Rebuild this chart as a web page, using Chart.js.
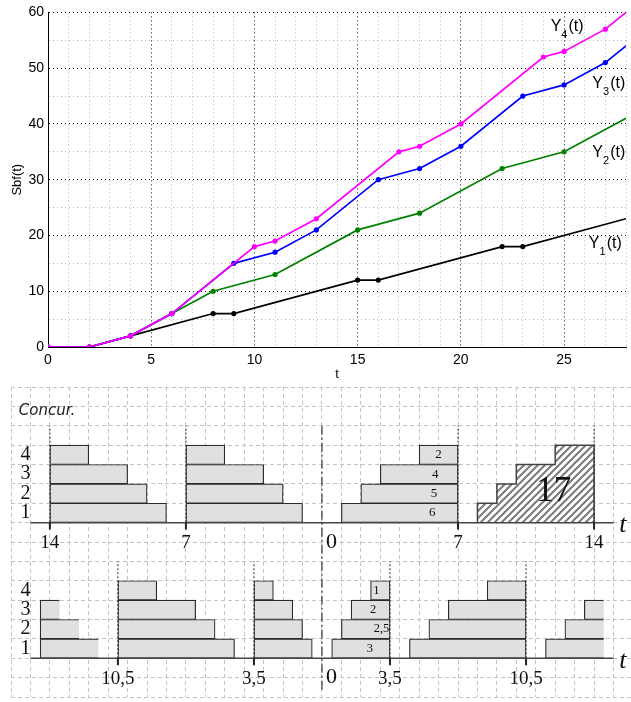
<!DOCTYPE html>
<html><head><meta charset="utf-8">
<script src="https://cdn.jsdelivr.net/npm/chart.js@4.4.0/dist/chart.umd.min.js"></script>
<style>
html,body{margin:0;padding:0;background:#fff;}
canvas{display:block;}
</style></head><body>
<canvas id="c1" width="631" height="380"></canvas>
<canvas id="c2" width="631" height="322"></canvas>
<script>
// ================= TOP CHART DATA =================
const y1T = [0,2,4,8,9,15,16,22,23,28];
const y1V = [0,0,2,6,6,12,12,18,18,23];
const y2T = [0,2,4,6,8,11,15,18,22,25,28];
const y2V = [0,0,2,6,10,13,21,24,32,35,41];
const y3T = [0,2,4,6,9,11,13,16,18,20,23,25,27,28];
const y3V = [0,0,2,6,15,17,21,30,32,36,45,47,51,54];
const y4T = [0,2,4,6,10,11,13,17,18,20,24,25,27,28];
const y4V = [0,0,2,6,18,19,23,35,36,40,52,53,57,60];
const seriesSub = ['1','2','3','4'];
const seriesColors = ['#000000','#008000','#0000ff','#ff00ff'];
const seriesLabelT = [26.2, 26.37, 26.37, 24.35];
const seriesLabelY = [17.7, 34.1, 46.5, 56.7];
const xTickLabels = [0,5,10,15,20,25];
const yTickLabels = [0,10,20,30,40,50,60];

// ================= BOTTOM DIAGRAM DATA =================
const rowIds = [1,2,3,4];
const rowNames = ['1','2','3','4'];
// upper timeline (axis at level 0)
const topGroupA = [[-14,-8],[-14,-9],[-14,-10],[-14,-12]];
const topGroupB = [[-7,-1],[-7,-2],[-7,-3],[-7,-5]];
const topGroupC = [[1,7],[2,7],[3,7],[5,7]];
const topGroupCLabels = ['6','5','4','2'];
const topGroupCLabelAt = [5.68,5.76,5.83,6.0];
const stairStarts = [8,9,10,12];
const stairEnd = 14;
const stairTotal = '17';
const topMarks = [-14,-7,0,7,14];
const topMarkLabels = ['14','7','0','7','14'];
const topGuides = [-14,-7,7,14];
// lower timeline (axis at level -7)
const botGroupA = [[-14.5,-11.5],[-14.5,-12.5],[-14.5,-13.5]];
const botGroupB = [[-10.5,-4.5],[-10.5,-5.5],[-10.5,-6.5],[-10.5,-8.5]];
const botGroupC = [[-3.5,-0.5],[-3.5,-1],[-3.5,-1.5],[-3.5,-2.5]];
const botGroupD = [[0.5,3.5],[1,3.5],[1.5,3.5],[2.5,3.5]];
const botGroupDLabels = ['3','2,5','2','1'];
const botGroupDLabelAt = [2.47,3.06,2.63,2.8];
const botGroupE = [[4.5,10.5],[5.5,10.5],[6.5,10.5],[8.5,10.5]];
const botGroupF = [[11.5,14.5],[12.5,14.5],[13.5,14.5]];
const botMarks = [-10.5,-3.5,0,3.5,10.5];
const botMarkLabels = ['10,5','3,5','0','3,5','10,5'];
const botGuides = [-10.5,-3.5,3.5,10.5];

const TOP_BASE = 0, BOT_BASE = -7;

// ================= TOP CHART =================
const pts = (T,V) => T.map((t,i)=>({x:t,y:V[i]}));
const allT = [y1T,y2T,y3T,y4T], allV = [y1V,y2V,y3V,y4V];

const topText = {
  id:'topText',
  afterDraw(chart){
    const {ctx, scales:{x,y}, chartArea:a} = chart;
    ctx.save();
    ctx.fillStyle = '#000';
    ctx.textAlign = 'left'; ctx.textBaseline = 'alphabetic';
    seriesSub.forEach((s,i)=>{
      const px = x.getPixelForValue(seriesLabelT[i]);
      const py = y.getPixelForValue(seriesLabelY[i]);
      ctx.font = '16px "Liberation Sans"';
      ctx.fillText('Y', px, py);
      const w1 = ctx.measureText('Y').width;
      ctx.font = '11px "Liberation Sans"';
      ctx.fillText(s, px + w1, py + 7);
      const w2 = ctx.measureText(s).width;
      ctx.font = '16px "Liberation Sans"';
      ctx.fillText('(t)', px + w1 + w2 + 1, py);
    });
    ctx.font = '13px "Liberation Sans"';
    ctx.textAlign = 'center'; ctx.textBaseline = 'middle';
    ctx.fillText('t', (a.left + a.right)/2, 374);
    ctx.translate(17, (a.top + a.bottom)/2);
    ctx.rotate(-Math.PI/2);
    ctx.fillText('Sbf(t)', 0, 0);
    ctx.restore();
  }
};

new Chart(document.getElementById('c1'), {
  type:'line',
  data:{ datasets: allT.map((T,i)=>({
    data: pts(T, allV[i]),
    borderColor: seriesColors[i],
    backgroundColor: seriesColors[i],
    pointBackgroundColor: seriesColors[i],
    pointBorderWidth: 0,
    pointRadius: c => (c.raw && c.raw.x >= 28) ? 0 : 2.6,
    pointHoverRadius: 0,
    borderWidth: 1.7,
    tension: 0,
    fill: false,
    order: 4 - i
  }))},
  options:{
    responsive:false, animation:false,
    layout:{padding:{top:12,left:0,right:0,bottom:0}},
    plugins:{legend:{display:false}, tooltip:{enabled:false}},
    scales:{
      x:{type:'linear', min:0, max:28,
        afterFit: s => { s.height = 33; },
        ticks:{stepSize:1, autoSkip:false, maxRotation:0, minRotation:0, padding:5, color:'#000',
          font:{family:'Liberation Sans', size:14},
          callback: v => xTickLabels.includes(v) ? String(v) : ''},
        grid:{drawTicks:false, lineWidth:1,
          color: c => (c.tick && c.tick.value % 5 === 0) ? '#111' : '#b8b8b8'},
        border:{display:true, color:'#000', width:1, dash:[1,3]}
      },
      y:{type:'linear', min:0, max:60,
        afterFit: s => { s.width = 48; },
        ticks:{stepSize:5, autoSkip:false, padding:4, color:'#000',
          font:{family:'Liberation Sans', size:14},
          callback: v => yTickLabels.includes(v) ? String(v) : ''},
        grid:{drawTicks:false, lineWidth:1,
          color: c => (c.tick && c.tick.value % 10 === 0) ? '#111' : '#b8b8b8'},
        border:{display:true, color:'#000', width:1, dash:[1,3]}
      }
    }
  },
  plugins:[topText]
});

// ================= BOTTOM DIAGRAM =================
const c2 = document.getElementById('c2');
function makeHatch(){
  const s = 7, t = document.createElement('canvas');
  t.width = s; t.height = s;
  const g = t.getContext('2d');
  g.fillStyle = '#fff'; g.fillRect(0,0,s,s);
  g.strokeStyle = '#7a7a7a'; g.lineWidth = 2;
  g.beginPath();
  g.moveTo(-1, s+1); g.lineTo(s+1, -1);
  g.moveTo(-1, 1); g.lineTo(1, -1);
  g.moveTo(s-1, s+1); g.lineTo(s+1, s-1);
  g.stroke();
  return c2.getContext('2d').createPattern(t, 'repeat');
}

const barDs = (group, base, skipped) => ({
  type:'bar', indexAxis:'y',
  data: group.map((iv,i)=>({x: iv, y: base + rowIds[i] - 0.5})),
  backgroundColor:'#e0e0e0', borderColor:'#2b2b2b', borderWidth:1.2,
  borderSkipped: skipped, barPercentage:1, categoryPercentage:1, grouped:false,
  order: 3
});
const lineDs = (data, color, width, dash, order) => ({
  type:'line', data, borderColor:color, borderWidth:width, borderDash:dash,
  pointRadius:0, pointHoverRadius:0, tension:0, fill:false, spanGaps:false, order
});
const vSegs = (xs, y0, y1) => {
  const out = [];
  xs.forEach(v => { out.push({x:v,y:y0},{x:v,y:y1},{x:v,y:null}); });
  return out;
};

const stairPts = [];
stairStarts.forEach((s,i)=>{ stairPts.push({x:s,y:TOP_BASE+i},{x:s,y:TOP_BASE+i+1}); });
stairPts.push({x:stairEnd,y:TOP_BASE+stairStarts.length},{x:stairEnd,y:TOP_BASE});

const datasets = [
  barDs(topGroupA, TOP_BASE, false),
  barDs(topGroupB, TOP_BASE, false),
  barDs(topGroupC, TOP_BASE, false),
  barDs(botGroupA, BOT_BASE, 'left'),
  barDs(botGroupB, BOT_BASE, false),
  barDs(botGroupC, BOT_BASE, false),
  barDs(botGroupD, BOT_BASE, false),
  barDs(botGroupE, BOT_BASE, false),
  barDs(botGroupF, BOT_BASE, 'right'),
  Object.assign(lineDs(stairPts, '#444', 1.5, [], 3), {fill:'origin', backgroundColor: makeHatch()}),
  lineDs(vSegs(topGuides, TOP_BASE, TOP_BASE+5), '#222', 1, [2,2], 1),
  lineDs(vSegs(botGuides, BOT_BASE, BOT_BASE+5), '#222', 1, [2,2], 1),
  lineDs([{x:0,y:TOP_BASE+5},{x:0,y:BOT_BASE-1.65}], '#333', 1.2, [9,3,2,3], 1),
  lineDs(vSegs(topMarks.filter(v=>v!==0), TOP_BASE, TOP_BASE-0.36), '#222', 2, [], 0),
  lineDs(vSegs(botMarks.filter(v=>v!==0), BOT_BASE, BOT_BASE-0.36), '#222', 2, [], 0),
  lineDs([{x:-15,y:TOP_BASE},{x:15,y:TOP_BASE}], '#444', 1.5, [], 0),
  lineDs([{x:-15,y:BOT_BASE},{x:15,y:BOT_BASE}], '#444', 1.5, [], 0)
];

const botText = {
  id:'botText',
  afterDatasetsDraw(chart){
    const {ctx, scales:{x,y}} = chart;
    const X = v => x.getPixelForValue(v), Y = v => y.getPixelForValue(v);
    ctx.save();
    ctx.fillStyle = '#111';
    // title
    ctx.font = 'italic 15px "DejaVu Sans"';
    ctx.textAlign = 'left'; ctx.textBaseline = 'alphabetic';
    ctx.fillStyle = '#222';
    ctx.fillText('Concur.', X(-15.6), Y(5.56));
    ctx.fillStyle = '#111';
    // row labels
    ctx.font = '20px "Liberation Serif"';
    ctx.textAlign = 'center'; ctx.textBaseline = 'middle';
    [TOP_BASE, BOT_BASE].forEach(b => {
      rowIds.forEach((r,i) => ctx.fillText(rowNames[i], X(-15.25), Y(b + r - 0.5)));
    });
    // bar labels
    ctx.font = '13px "Liberation Serif"';
    topGroupCLabels.forEach((t,i)=> ctx.fillText(t, X(topGroupCLabelAt[i]), Y(TOP_BASE + rowIds[i] - 0.5)));
    ctx.font = '12.5px "Liberation Serif"';
    botGroupDLabels.forEach((t,i)=> ctx.fillText(t, X(botGroupDLabelAt[i]), Y(BOT_BASE + rowIds[i] - 0.5)));
    // total
    ctx.font = '35px "Liberation Serif"';
    ctx.fillText(stairTotal, X(11.93), Y(TOP_BASE + 1.6));
    // axis labels
    const marks = (ms, labs, b) => ms.forEach((m,i)=>{
      if (labs[i] === '0') {
        ctx.font = '22px "Liberation Serif"'; ctx.textAlign = 'left';
        ctx.fillText(labs[i], X(m) + 4, Y(b - 1.0));
      } else {
        ctx.font = '19px "Liberation Serif"'; ctx.textAlign = 'center';
        ctx.fillText(labs[i], X(m), Y(b - 1.05));
      }
    });
    marks(topMarks, topMarkLabels, TOP_BASE);
    marks(botMarks, botMarkLabels, BOT_BASE);
    // t labels
    ctx.font = 'italic 26px "Liberation Serif"';
    ctx.textAlign = 'left'; ctx.textBaseline = 'alphabetic';
    ctx.fillText('t', X(15.3), Y(TOP_BASE - 0.5));
    ctx.fillText('t', X(15.3), Y(BOT_BASE - 0.5));
    ctx.restore();
  }
};

const paperGrid = c => (c.tick && Number.isInteger(c.tick.value)) ? '#c4c4c4' : 'rgba(0,0,0,0)';
new Chart(c2, {
  type:'bar',
  data:{datasets},
  options:{
    responsive:false, animation:false,
    layout:{padding:{left:11, top:7, right:0, bottom:5}},
    plugins:{legend:{display:false}, tooltip:{enabled:false}},
    scales:{
      x:{type:'linear', min:-16, max:15.9, offset:false, beginAtZero:false,
        afterFit: s => { s.height = 0; },
        ticks:{display:false, stepSize:1, autoSkip:false, includeBounds:false},
        grid:{offset:false, drawTicks:false, lineWidth:1, color: paperGrid},
        border:{display:false, dash:[4,3]}
      },
      y:{type:'linear', min:-9, max:7, offset:false, beginAtZero:false,
        afterFit: s => { s.width = 0; },
        ticks:{display:false, stepSize:1, autoSkip:false},
        grid:{offset:false, drawTicks:false, lineWidth:1, color: paperGrid},
        border:{display:false, dash:[4,3]}
      }
    }
  },
  plugins:[botText]
});
</script>
</body></html>
